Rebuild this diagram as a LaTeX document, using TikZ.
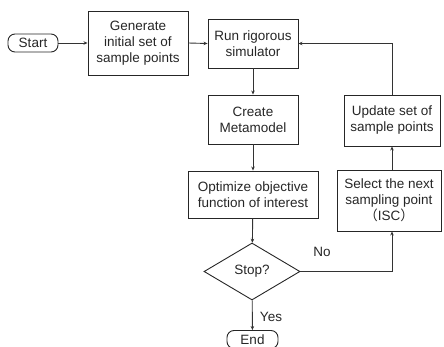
\documentclass[tikz,border=0pt]{standalone}
\usepackage{fontspec}
\setmainfont{Liberation Sans}
\newfontfamily\cjkfont{Noto Sans CJK SC}
\usetikzlibrary{arrows.meta,shapes.geometric}
\begin{document}
\begin{tikzpicture}[x=1pt,y=-1pt,
  every node/.style={font=\fontsize{13.5}{16}\selectfont, text=black!85},
  box/.style={draw=black!85, line width=0.9pt, align=center, inner sep=0pt},
  term/.style={draw=black!85, line width=0.9pt, rounded corners=7pt, inner sep=0pt},
  dec/.style={draw=black!85, line width=0.9pt, diamond, aspect=1.68, inner sep=0pt},
  conn/.style={draw=black!80, line width=0.9pt, -{Stealth[length=4pt,width=3.5pt]}},
  lbl/.style={inner sep=0pt}]
\useasboundingbox (0,0) rectangle (444,347);
\node[term, minimum width=50pt, minimum height=18pt] (start) at (33,43) {Start};
\node[box, minimum width=100pt, minimum height=64pt] (gen) at (138,43) {Generate\\initial set of\\sample points};
\node[box, minimum width=90pt, minimum height=49pt] (run) at (253,43.5) {Run rigorous\\simulator};
\node[box, minimum width=90pt, minimum height=49pt] (meta) at (253,119.5) {Create\\Metamodel};
\node[box, minimum width=130pt, minimum height=47pt] (opt) at (253,194.5) {Optimize objective\\function of interest};
\node[dec, minimum width=96pt, minimum height=57pt] (stop) at (252,271.5) {Stop?};
\node[term, minimum width=51pt, minimum height=18pt] (end) at (252.5,339.5) {End};
\node[box, minimum width=96pt, minimum height=51pt] (upd) at (392,120.5) {Update set of\\sample points};
\node[box, minimum width=104pt, minimum height=61pt] (sel) at (389,200.5) {Select the next\\sampling point\\{\cjkfont （}ISC{\cjkfont ）}};
\node[lbl] (no) at (322,252) {No};
\node[lbl] (yes) at (271,317) {Yes};
\coordinate (c1) at (392,271.5);
\coordinate (c2) at (392,43.5);
\draw[conn] (start) -- (gen);
\draw[conn] (gen.east) -- (run.west);
\draw[conn] (run) -- (meta);
\draw[conn] (meta) -- (opt);
\draw[conn] (opt) -- (stop);
\draw[conn] (stop) -- (end);
\draw[conn] (stop.east) -- (c1) -- (sel.south -| c1);
\draw[conn] (sel.north -| upd) -- (upd.south);
\draw[conn] (upd.north) -- (c2) -- (run.east);
\end{tikzpicture}
\end{document}
